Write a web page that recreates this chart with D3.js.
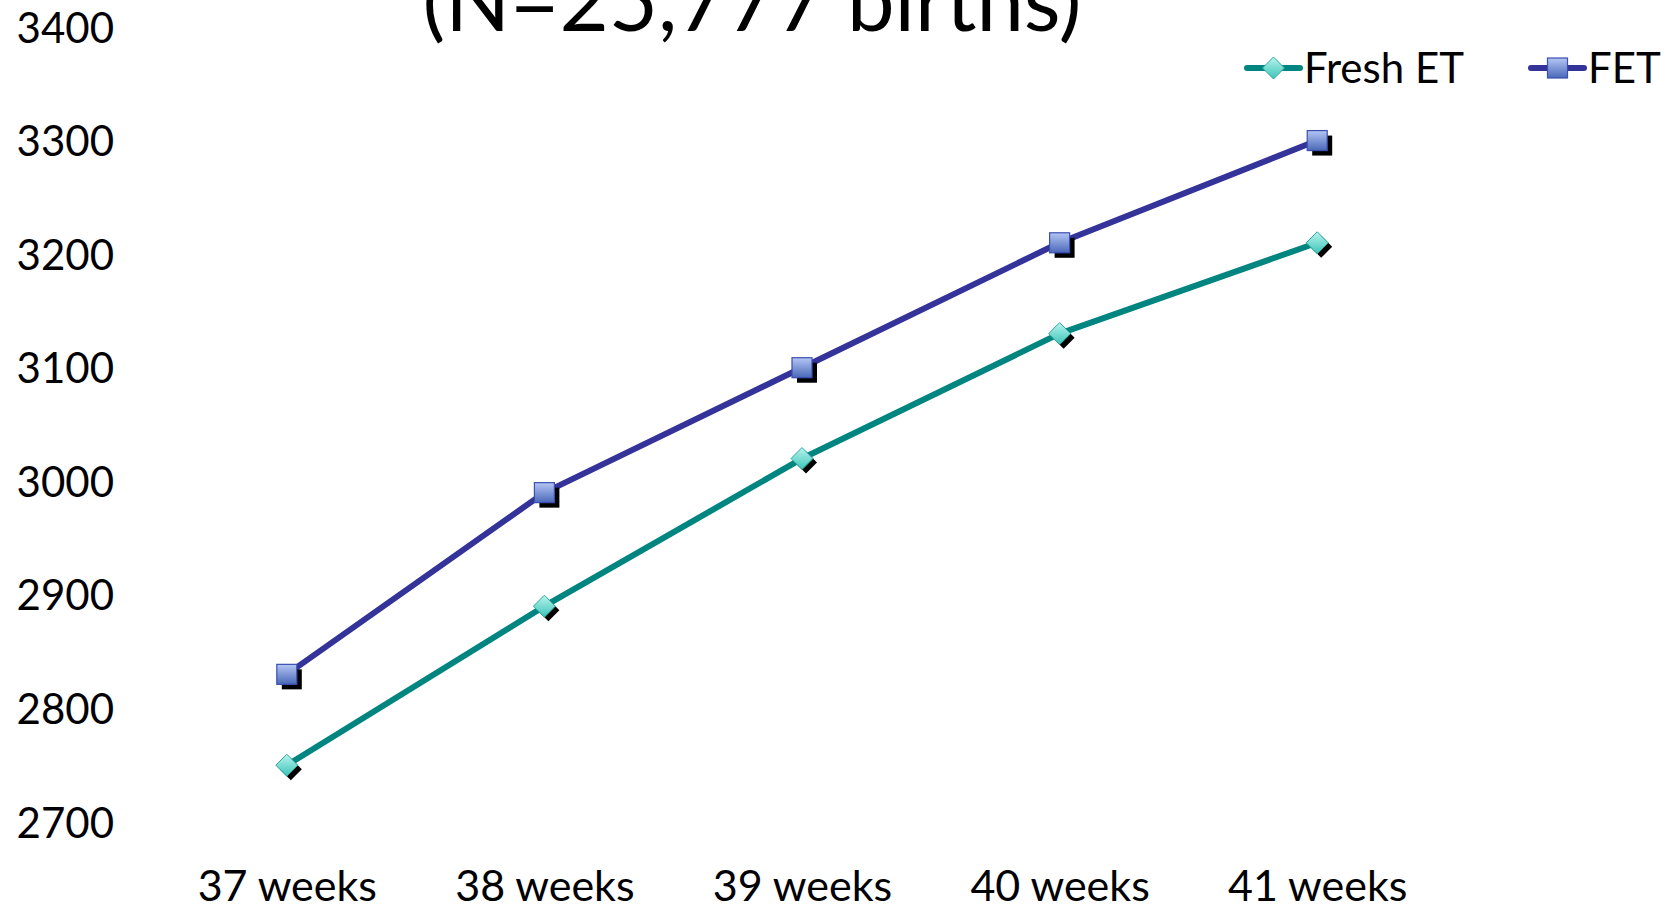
<!DOCTYPE html>
<html><head><meta charset="utf-8">
<script src="https://cdn.jsdelivr.net/npm/d3@7"></script>
<style>html,body{margin:0;padding:0;background:#fff;}svg{display:block;}</style>
</head><body>
<svg id="chart" width="1668" height="906"></svg>
<script>
const categories = ["37 weeks","38 weeks","39 weeks","40 weeks","41 weeks"];
const freshET = [2750, 2890, 3020, 3130, 3210];
const fet = [2830, 2990, 3100, 3210, 3300];
const yTicks = [2700, 2800, 2900, 3000, 3100, 3200, 3300, 3400];
const seriesNames = ["Fresh ET", "FET"];
const titleText = "(N=25,777 births)";

const svg = d3.select("#chart");
const FONT = "Lato, 'Open Sans', sans-serif";

const defs = svg.append("defs");
const g1 = defs.append("linearGradient").attr("id","gDia").attr("x1",0).attr("y1",0).attr("x2",0).attr("y2",1);
g1.append("stop").attr("offset","0%").attr("stop-color","#b8f4ee");
g1.append("stop").attr("offset","100%").attr("stop-color","#3cc4b8");
const g2 = defs.append("linearGradient").attr("id","gSq").attr("x1",0).attr("y1",0).attr("x2",0).attr("y2",1);
g2.append("stop").attr("offset","0%").attr("stop-color","#b4c6f4");
g2.append("stop").attr("offset","100%").attr("stop-color","#4a68b8");

const x = d3.scalePoint().domain(categories).range([158, 1446]).padding(0.5);
const y = d3.scaleLinear().domain([2700, 3400]).range([822, 27]);

// title
svg.append("text").attr("x", 752).attr("y", 31).attr("text-anchor","middle")
  .attr("font-family", FONT).attr("font-size", 85).attr("fill","#000").text(titleText);

// y axis labels
const yAxis = d3.axisLeft(y).tickValues(yTicks).tickSize(0).tickPadding(0).tickFormat(d3.format("d"));
const ya = svg.append("g").attr("transform","translate(114,0)").call(yAxis);
ya.select(".domain").remove();
ya.selectAll("text").attr("font-family", FONT).attr("font-size", 42).attr("fill","#000").attr("dy","0.36em");

// x axis labels
const xAxis = d3.axisBottom(x).tickSize(0).tickPadding(0);
const xa = svg.append("g").attr("transform","translate(0,901)").call(xAxis);
xa.select(".domain").remove();
xa.selectAll("text").attr("font-family", FONT).attr("font-size", 43).attr("fill","#000").attr("dy","0");

const series = [
  {name: seriesNames[0], values: freshET, color: "#008580", marker: "diamond"},
  {name: seriesNames[1], values: fet, color: "#333399", marker: "square"}
];

const line = d3.line().x((d,i)=>x(categories[i])).y(d=>y(d));

function drawMarker(sel, type, cx, cy) {
  if (type === "diamond") {
    const r = 11;
    const pts = (ox, oy) => `${cx+ox},${cy-r+oy} ${cx+r+ox},${cy+oy} ${cx+ox},${cy+r+oy} ${cx-r+ox},${cy+oy}`;
    sel.append("polygon").attr("points", pts(4,4)).attr("fill","#000");
    sel.append("polygon").attr("points", pts(0,0)).attr("fill","url(#gDia)").attr("stroke","#2aa89e").attr("stroke-width",1);
  } else {
    const s = 20;
    sel.append("rect").attr("x", cx-s/2+5).attr("y", cy-s/2+5).attr("width", s).attr("height", s).attr("fill","#000");
    sel.append("rect").attr("x", cx-s/2).attr("y", cy-s/2).attr("width", s).attr("height", s)
      .attr("fill","url(#gSq)").attr("stroke","#3a4fb0").attr("stroke-width",1.2);
  }
}

series.forEach(s => {
  svg.append("path").datum(s.values).attr("d", line).attr("fill","none")
    .attr("stroke", s.color).attr("stroke-width", 6).attr("stroke-linejoin","round");
});
series.forEach(s => {
  const gm = svg.append("g");
  s.values.forEach((v,i) => drawMarker(gm, s.marker, x(categories[i]), y(v)));
});

// legend
const legendItems = [
  {s: series[0], x0: 1247, x1: 1300, tx: 1304},
  {s: series[1], x0: 1531, x1: 1584, tx: 1588}
];
legendItems.forEach(it => {
  const gl = svg.append("g");
  gl.append("line").attr("x1", it.x0).attr("x2", it.x1).attr("y1", 68).attr("y2", 68)
    .attr("stroke", it.s.color).attr("stroke-width", 6).attr("stroke-linecap","round");
  const cx = (it.x0 + it.x1)/2;
  if (it.s.marker === "diamond") {
    const r = 11;
    gl.append("polygon").attr("points", `${cx},${68-r} ${cx+r},68 ${cx},${68+r} ${cx-r},68`)
      .attr("fill","url(#gDia)").attr("stroke","#2aa89e").attr("stroke-width",1);
  } else {
    gl.append("rect").attr("x", cx-10).attr("y", 58).attr("width",20).attr("height",20)
      .attr("fill","url(#gSq)").attr("stroke","#3a4fb0").attr("stroke-width",1.2);
  }
  gl.append("text").attr("x", it.tx).attr("y", 83).attr("font-family", FONT).attr("font-size", 42)
    .attr("fill","#000").text(it.s.name);
});
</script>
</body></html>
